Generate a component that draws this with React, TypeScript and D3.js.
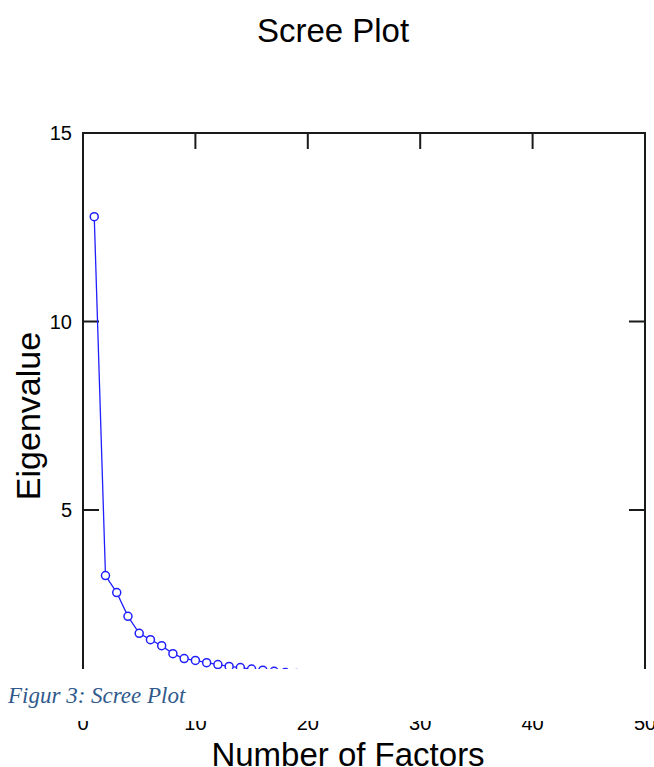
import React from "react";
import * as d3 from "d3";

const factors = [1, 2, 3, 4, 5, 6, 7, 8, 9, 10, 11, 12, 13, 14, 15, 16, 17, 18, 19, 20, 21, 22, 23, 24, 25, 26, 27, 28, 29, 30];
const eigenvalues = [12.78, 3.26, 2.81, 2.18, 1.73, 1.56, 1.4, 1.19, 1.06, 1.01, 0.95, 0.9, 0.85, 0.82, 0.78, 0.75, 0.72, 0.69, 0.66, 0.63, 0.6, 0.57, 0.54, 0.51, 0.48, 0.45, 0.42, 0.39, 0.36, 0.33];
const xTicks = [0, 10, 20, 30, 40, 50];
const yTicks = [0, 5, 10, 15];

const W = 654;
const H = 767;

export default function App() {
  const x = d3.scaleLinear().domain([0, 50]).range([83, 645]);
  const y = d3.scaleLinear().domain([0, 15]).range([698.5, 133]);
  const pts = factors.map((f, i) => [f, eigenvalues[i]] as [number, number]);
  const line = d3
    .line<[number, number]>()
    .x((d) => x(d[0]))
    .y((d) => y(d[1]));
  const blue = "#2020ff";
  const tl = 16;
  const font = "'Liberation Sans', Arial, sans-serif";
  return (
    <svg
      width={W}
      height={H}
      style={{ position: "absolute", left: 0, top: 0, background: "#fff" }}
    >
      <rect x={0} y={0} width={W} height={H} fill="#fff" />
      <text x={333} y={42} textAnchor="middle" fontFamily={font} fontSize={33} fill="#000">
        Scree Plot
      </text>
      {/* frame */}
      <rect
        x={x(0)}
        y={y(15)}
        width={x(50) - x(0)}
        height={y(0) - y(15)}
        fill="none"
        stroke="#1a1a1a"
        strokeWidth={2}
      />
      {/* ticks */}
      {xTicks
        .filter((t) => t > 0 && t < 50)
        .map((t) => (
          <g key={"xt" + t}>
            <line x1={x(t)} x2={x(t)} y1={y(15)} y2={y(15) + tl} stroke="#1a1a1a" strokeWidth={2} />
            <line x1={x(t)} x2={x(t)} y1={y(0)} y2={y(0) - tl} stroke="#1a1a1a" strokeWidth={2} />
          </g>
        ))}
      {yTicks
        .filter((t) => t > 0 && t < 15)
        .map((t) => (
          <g key={"yt" + t}>
            <line x1={x(0)} x2={x(0) + tl} y1={y(t)} y2={y(t)} stroke="#1a1a1a" strokeWidth={2} />
            <line x1={x(50)} x2={x(50) - tl} y1={y(t)} y2={y(t)} stroke="#1a1a1a" strokeWidth={2} />
          </g>
        ))}
      {yTicks
        .filter((t) => t > 0)
        .map((t) => (
          <text
            key={"yl" + t}
            x={72}
            y={y(t)}
            dy="0.36em"
            textAnchor="end"
            fontFamily={font}
            fontSize={20}
            fill="#000"
          >
            {t}
          </text>
        ))}
      {xTicks.map((t) => (
        <text
          key={"xl" + t}
          x={x(t)}
          y={730}
          textAnchor="middle"
          fontFamily={font}
          fontSize={20}
          fill="#000"
        >
          {t}
        </text>
      ))}
      <text
        transform={`translate(40,416) rotate(-90)`}
        textAnchor="middle"
        fontFamily={font}
        fontSize={34}
        fill="#000"
      >
        Eigenvalue
      </text>
      <text x={348} y={766} textAnchor="middle" fontFamily={font} fontSize={33} fill="#000">
        Number of Factors
      </text>
      {/* data */}
      <path d={line(pts) || ""} fill="none" stroke={blue} strokeWidth={1.3} />
      {pts.map((p, i) => (
        <circle key={i} cx={x(p[0])} cy={y(p[1])} r={4} fill="#fff" stroke={blue} strokeWidth={1.5} />
      ))}
      {/* caption overlay */}
      <rect x={0} y={669} width={W} height={52} fill="#fff" />
      <text
        x={8}
        y={703}
        fontFamily="'Liberation Serif', 'DejaVu Serif', serif"
        fontStyle="italic"
        fontSize={23}
        fill="#2f5a8c"
      >
        Figur 3: Scree Plot
      </text>
    </svg>
  );
}
